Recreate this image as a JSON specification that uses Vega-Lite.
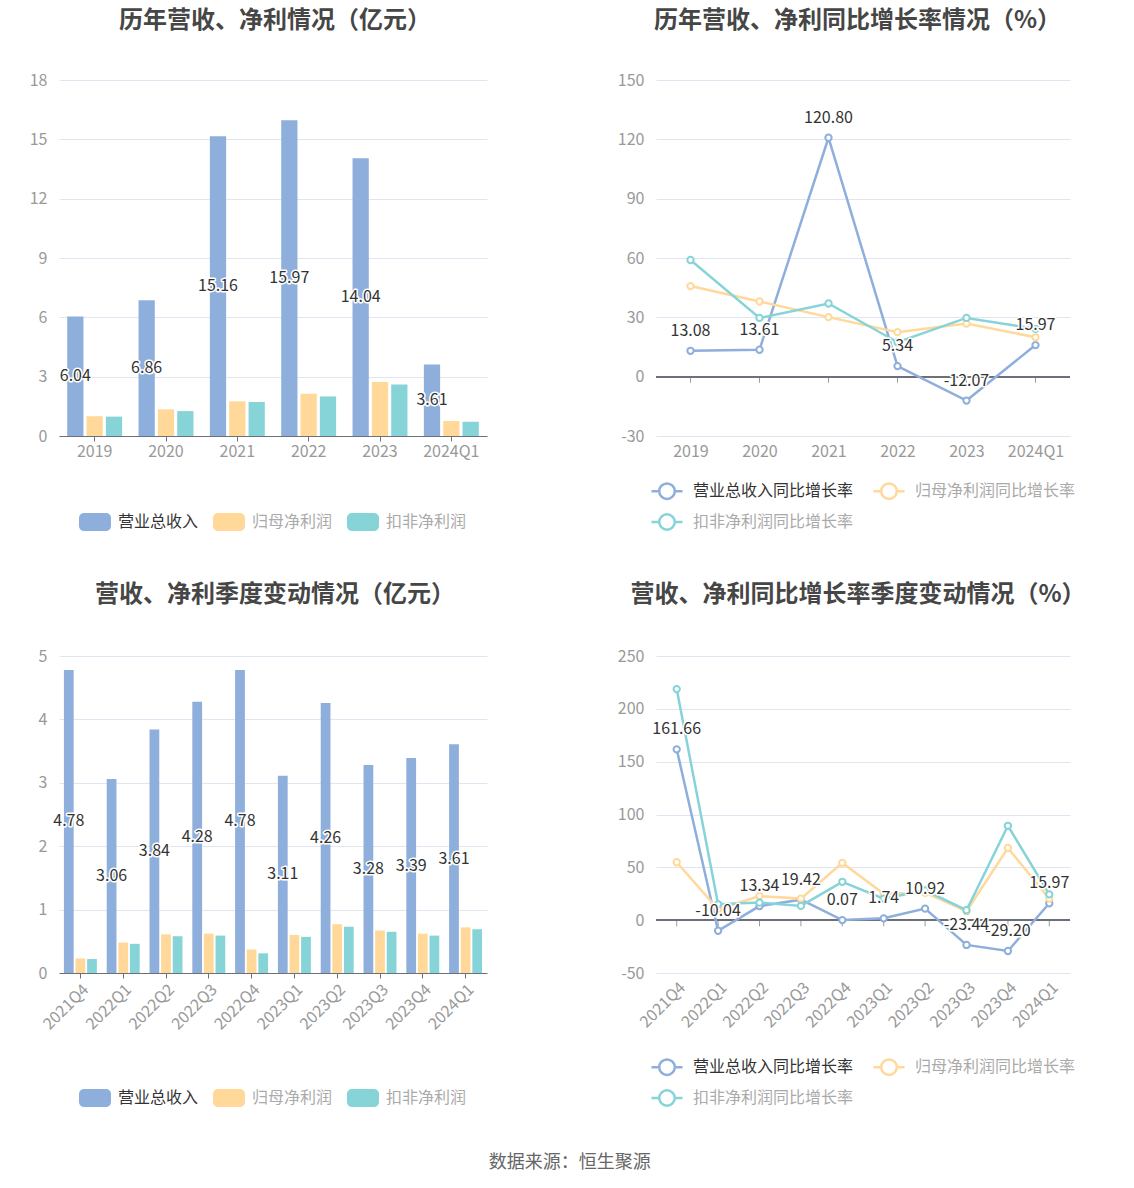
{
  "$schema": "https://vega.github.io/schema/vega-lite/v6.json",
  "background": "white",
  "padding": {"left": 0, "right": 0, "top": 9, "bottom": 0},
  "config": {
    "font": "Noto Sans CJK SC",
    "locale": {"number": {"decimal": ".", "thousands": ",", "grouping": [3], "currency": ["", ""], "minus": "-"}},
    "view": {"stroke": null},
    "title": {"fontSize": 24, "fontWeight": "bold", "color": "#464646", "offset": 39, "anchor": "middle"},
    "axis": {"labelFontSize": 16, "labelColor": "#999999", "title": null},
    "legend": {"orient": "bottom", "direction": "horizontal", "title": null, "labelFontSize": 16, "labelColor": "#aaaaaa", "labelLimit": 0, "columnPadding": 14, "rowPadding": 1, "layout": {"bottom": {"anchor": "middle"}}}
  },
  "title": {"text": "数据来源：恒生聚源", "orient": "bottom", "fontSize": 18, "fontWeight": "normal", "color": "#666666", "offset": 43, "dx": 27},
  "datasets": {
    "annual": [
      {"p": "2019", "s": "营业总收入", "v": 6.04}, {"p": "2019", "s": "归母净利润", "v": 1.0}, {"p": "2019", "s": "扣非净利润", "v": 0.98},
      {"p": "2020", "s": "营业总收入", "v": 6.86}, {"p": "2020", "s": "归母净利润", "v": 1.35}, {"p": "2020", "s": "扣非净利润", "v": 1.26},
      {"p": "2021", "s": "营业总收入", "v": 15.16}, {"p": "2021", "s": "归母净利润", "v": 1.75}, {"p": "2021", "s": "扣非净利润", "v": 1.72},
      {"p": "2022", "s": "营业总收入", "v": 15.97}, {"p": "2022", "s": "归母净利润", "v": 2.14}, {"p": "2022", "s": "扣非净利润", "v": 2.0},
      {"p": "2023", "s": "营业总收入", "v": 14.04}, {"p": "2023", "s": "归母净利润", "v": 2.73}, {"p": "2023", "s": "扣非净利润", "v": 2.6},
      {"p": "2024Q1", "s": "营业总收入", "v": 3.61}, {"p": "2024Q1", "s": "归母净利润", "v": 0.76}, {"p": "2024Q1", "s": "扣非净利润", "v": 0.72}
    ],
    "annualGrowth": [
      {"p": "2019", "s": "营业总收入同比增长率", "v": 13.08}, {"p": "2020", "s": "营业总收入同比增长率", "v": 13.61}, {"p": "2021", "s": "营业总收入同比增长率", "v": 120.8},
      {"p": "2022", "s": "营业总收入同比增长率", "v": 5.34}, {"p": "2023", "s": "营业总收入同比增长率", "v": -12.07}, {"p": "2024Q1", "s": "营业总收入同比增长率", "v": 15.97},
      {"p": "2019", "s": "归母净利润同比增长率", "v": 45.8}, {"p": "2020", "s": "归母净利润同比增长率", "v": 38.0}, {"p": "2021", "s": "归母净利润同比增长率", "v": 30.1},
      {"p": "2022", "s": "归母净利润同比增长率", "v": 22.5}, {"p": "2023", "s": "归母净利润同比增长率", "v": 26.9}, {"p": "2024Q1", "s": "归母净利润同比增长率", "v": 19.9},
      {"p": "2019", "s": "扣非净利润同比增长率", "v": 59.0}, {"p": "2020", "s": "扣非净利润同比增长率", "v": 29.7}, {"p": "2021", "s": "扣非净利润同比增长率", "v": 37.0},
      {"p": "2022", "s": "扣非净利润同比增长率", "v": 17.4}, {"p": "2023", "s": "扣非净利润同比增长率", "v": 29.7}, {"p": "2024Q1", "s": "扣非净利润同比增长率", "v": 24.2}
    ],
    "quarterly": [
      {"p": "2021Q4", "s": "营业总收入", "v": 4.78}, {"p": "2021Q4", "s": "归母净利润", "v": 0.23}, {"p": "2021Q4", "s": "扣非净利润", "v": 0.22},
      {"p": "2022Q1", "s": "营业总收入", "v": 3.06}, {"p": "2022Q1", "s": "归母净利润", "v": 0.48}, {"p": "2022Q1", "s": "扣非净利润", "v": 0.46},
      {"p": "2022Q2", "s": "营业总收入", "v": 3.84}, {"p": "2022Q2", "s": "归母净利润", "v": 0.61}, {"p": "2022Q2", "s": "扣非净利润", "v": 0.58},
      {"p": "2022Q3", "s": "营业总收入", "v": 4.28}, {"p": "2022Q3", "s": "归母净利润", "v": 0.62}, {"p": "2022Q3", "s": "扣非净利润", "v": 0.59},
      {"p": "2022Q4", "s": "营业总收入", "v": 4.78}, {"p": "2022Q4", "s": "归母净利润", "v": 0.37}, {"p": "2022Q4", "s": "扣非净利润", "v": 0.31},
      {"p": "2023Q1", "s": "营业总收入", "v": 3.11}, {"p": "2023Q1", "s": "归母净利润", "v": 0.6}, {"p": "2023Q1", "s": "扣非净利润", "v": 0.57},
      {"p": "2023Q2", "s": "营业总收入", "v": 4.26}, {"p": "2023Q2", "s": "归母净利润", "v": 0.77}, {"p": "2023Q2", "s": "扣非净利润", "v": 0.73},
      {"p": "2023Q3", "s": "营业总收入", "v": 3.28}, {"p": "2023Q3", "s": "归母净利润", "v": 0.67}, {"p": "2023Q3", "s": "扣非净利润", "v": 0.65},
      {"p": "2023Q4", "s": "营业总收入", "v": 3.39}, {"p": "2023Q4", "s": "归母净利润", "v": 0.62}, {"p": "2023Q4", "s": "扣非净利润", "v": 0.59},
      {"p": "2024Q1", "s": "营业总收入", "v": 3.61}, {"p": "2024Q1", "s": "归母净利润", "v": 0.72}, {"p": "2024Q1", "s": "扣非净利润", "v": 0.69}
    ],
    "quarterlyGrowth": [
      {"p": "2021Q4", "s": "营业总收入同比增长率", "v": 161.66}, {"p": "2022Q1", "s": "营业总收入同比增长率", "v": -10.04}, {"p": "2022Q2", "s": "营业总收入同比增长率", "v": 13.34},
      {"p": "2022Q3", "s": "营业总收入同比增长率", "v": 19.42}, {"p": "2022Q4", "s": "营业总收入同比增长率", "v": 0.07}, {"p": "2023Q1", "s": "营业总收入同比增长率", "v": 1.74},
      {"p": "2023Q2", "s": "营业总收入同比增长率", "v": 10.92}, {"p": "2023Q3", "s": "营业总收入同比增长率", "v": -23.44}, {"p": "2023Q4", "s": "营业总收入同比增长率", "v": -29.2},
      {"p": "2024Q1", "s": "营业总收入同比增长率", "v": 15.97},
      {"p": "2021Q4", "s": "归母净利润同比增长率", "v": 54.8}, {"p": "2022Q1", "s": "归母净利润同比增长率", "v": 10.3}, {"p": "2022Q2", "s": "归母净利润同比增长率", "v": 22.9},
      {"p": "2022Q3", "s": "归母净利润同比增长率", "v": 20.4}, {"p": "2022Q4", "s": "归母净利润同比增长率", "v": 54.2}, {"p": "2023Q1", "s": "归母净利润同比增长率", "v": 25.0},
      {"p": "2023Q2", "s": "归母净利润同比增长率", "v": 26.0}, {"p": "2023Q3", "s": "归母净利润同比增长率", "v": 8.5}, {"p": "2023Q4", "s": "归母净利润同比增长率", "v": 68.3},
      {"p": "2024Q1", "s": "归母净利润同比增长率", "v": 20.4},
      {"p": "2021Q4", "s": "扣非净利润同比增长率", "v": 218.7}, {"p": "2022Q1", "s": "扣非净利润同比增长率", "v": 15.0}, {"p": "2022Q2", "s": "扣非净利润同比增长率", "v": 16.6},
      {"p": "2022Q3", "s": "扣非净利润同比增长率", "v": 13.5}, {"p": "2022Q4", "s": "扣非净利润同比增长率", "v": 36.3}, {"p": "2023Q1", "s": "扣非净利润同比增长率", "v": 20.4},
      {"p": "2023Q2", "s": "扣非净利润同比增长率", "v": 28.2}, {"p": "2023Q3", "s": "扣非净利润同比增长率", "v": 9.4}, {"p": "2023Q4", "s": "扣非净利润同比增长率", "v": 89.3},
      {"p": "2024Q1", "s": "扣非净利润同比增长率", "v": 24.4}
    ]
  },
  "resolve": {"scale": {"color": "independent", "stroke": "independent"}, "legend": {"color": "independent"}},
  "columns": 1,
  "align": "none",
  "spacing": 48,
  "concat": [
    {
      "spacing": 109,
      "resolve": {"scale": {"x": "independent", "y": "independent", "color": "independent", "stroke": "independent", "xOffset": "independent"}, "legend": {"color": "independent"}, "axis": {"x": "independent", "y": "independent"}},
      "hconcat": [
        {
          "width": 428, "height": 356,
          "title": {"text": "历年营收、净利情况（亿元）", "dx": 2},
          "data": {"name": "annual"},
          "encoding": {
            "x": {"field": "p", "type": "nominal", "sort": null, "scale": {"paddingInner": 0.23, "paddingOuter": 0.115},
              "axis": {"labelAngle": 0, "domainColor": "#6E7079", "tickColor": "#6E7079", "tickSize": 5, "labelPadding": 2}},
            "xOffset": {"field": "s", "type": "nominal", "scale": {"domain": ["营业总收入", "归母净利润", "扣非净利润"], "paddingInner": 0.16, "paddingOuter": 0}}
          },
          "resolve": {"scale": {"y": "independent"}},
          "layer": [
            {
              "mark": {"type": "bar"},
              "encoding": {
                "y": {"field": "v", "type": "quantitative", "scale": {"domain": [0, 18]},
                  "axis": {"values": [0, 3, 6, 9, 12, 15, 18], "domain": false, "ticks": false, "gridColor": "#E0E6F1", "labelPadding": 12, "minExtent": 59, "maxExtent": 59}},
                "color": {"field": "s", "type": "nominal", "scale": {"domain": ["营业总收入", "归母净利润", "扣非净利润"], "range": ["#8eaedb", "#ffd89a", "#86d4d8"]},
                  "legend": {"offset": 47, "symbolType": "M-0.6875,-0.5625 H0.6875 A0.3125,0.3125 0 0 1 1,-0.25 V0.25 A0.3125,0.3125 0 0 1 0.6875,0.5625 H-0.6875 A0.3125,0.3125 0 0 1 -1,0.25 V-0.25 A0.3125,0.3125 0 0 1 -0.6875,-0.5625 Z", "symbolSize": 1024, "symbolStrokeWidth": 0, "labelOffset": 7,
                    "encode": {"symbols": {"update": {"fill": {"signal": "datum.value === '营业总收入' ? '#8eaedb' : datum.value === '归母净利润' ? '#ffebcd' : '#c3eaec'"}, "opacity": {"value": 1}}},
                      "labels": {"update": {"fill": {"signal": "datum.value === '营业总收入' ? '#333333' : '#aaaaaa'"}}}}}}
              }
            },
            {
              "transform": [{"filter": "datum.s === '营业总收入'"}],
              "encoding": {"y": {"field": "v", "type": "quantitative", "scale": {"domain": [0, 36]}, "axis": null}, "text": {"field": "v", "format": ".2f"}},
              "layer": [
                {"mark": {"type": "text", "fontSize": 16, "fill": "white", "stroke": "white", "strokeWidth": 3, "strokeJoin": "round", "baseline": "middle"}},
                {"mark": {"type": "text", "fontSize": 16, "fill": "#333333", "baseline": "middle"}}
              ]
            }
          ]
        },
        {
          "width": 414, "height": 356,
          "title": {"text": "历年营收、净利同比增长率情况（%）", "dx": -5.5},
          "data": {"name": "annualGrowth"},
          "encoding": {
            "x": {"field": "p", "type": "nominal", "sort": null, "scale": {"type": "point", "padding": 0.5},
              "axis": {"labelAngle": 0, "domain": false, "ticks": false, "labelPadding": 7}},
            "y": {"field": "v", "type": "quantitative", "scale": {"domain": [-30, 150]},
              "axis": {"values": [-30, 0, 30, 60, 90, 120, 150], "domain": false, "ticks": false, "gridColor": "#E0E6F1", "labelPadding": 12, "minExtent": 60, "maxExtent": 60}}
          },
          "layer": [
            {"mark": {"type": "rule", "color": "#6E7079", "strokeWidth": 1}, "encoding": {"y": {"datum": 0}, "x": null}},
            {"transform": [{"filter": "datum.s === '营业总收入同比增长率'"}], "mark": {"type": "tick", "orient": "vertical", "size": 6, "thickness": 1, "yOffset": 3, "color": "#6E7079"}, "encoding": {"y": {"datum": 0}}},
            {
              "mark": {"type": "line", "strokeWidth": 2.5},
              "encoding": {
                "color": {"field": "s", "type": "nominal", "sort": null, "scale": {"domain": ["营业总收入同比增长率", "归母净利润同比增长率", "扣非净利润同比增长率"], "range": ["#8eaedb", "#ffd89a", "#86d4d8"]},
                  "legend": {"offset": 15, "columns": 2, "symbolType": "M-1,0 H-0.5 M0.5,0 H1 M0.5,0 A0.5,0.5 0 1 1 -0.5,0 A0.5,0.5 0 1 1 0.5,0", "symbolSize": 961, "symbolStrokeWidth": 2.5, "labelOffset": 9,
                    "encode": {"symbols": {"update": {"stroke": {"signal": "datum.value === '营业总收入同比增长率' ? '#8eaedb' : datum.value === '归母净利润同比增长率' ? '#ffe3b8' : '#bde8ea'"}, "fill": {"value": "white"}, "opacity": {"value": 1}}},
                      "labels": {"update": {"fill": {"signal": "datum.value === '营业总收入同比增长率' ? '#333333' : '#aaaaaa'"}}}}}}
              }
            },
            {
              "mark": {"type": "point", "filled": true, "fill": "white", "size": 40, "strokeWidth": 2, "opacity": 1},
              "encoding": {"stroke": {"field": "s", "type": "nominal", "scale": {"domain": ["营业总收入同比增长率", "归母净利润同比增长率", "扣非净利润同比增长率"], "range": ["#8eaedb", "#ffd89a", "#86d4d8"]}, "legend": null}}
            },
            {
              "transform": [{"filter": "datum.s === '营业总收入同比增长率'"}],
              "encoding": {"text": {"field": "v", "format": ".2f"}},
              "layer": [
                {"mark": {"type": "text", "fontSize": 16, "fill": "white", "stroke": "white", "strokeWidth": 3, "strokeJoin": "round", "baseline": "middle", "dy": -20}},
                {"mark": {"type": "text", "fontSize": 16, "fill": "#333333", "baseline": "middle", "dy": -20}}
              ]
            }
          ]
        }
      ]
    },
    {
      "spacing": 109,
      "resolve": {"scale": {"x": "independent", "y": "independent", "color": "independent", "stroke": "independent", "xOffset": "independent"}, "legend": {"color": "independent"}, "axis": {"x": "independent", "y": "independent"}},
      "hconcat": [
        {
          "width": 428, "height": 317,
          "title": {"text": "营收、净利季度变动情况（亿元）", "dx": 2, "offset": 41},
          "data": {"name": "quarterly"},
          "encoding": {
            "x": {"field": "p", "type": "nominal", "sort": null, "scale": {"paddingInner": 0.23, "paddingOuter": 0.115},
              "axis": {"labelAngle": -45, "domainColor": "#6E7079", "tickColor": "#6E7079", "tickSize": 5, "labelPadding": 3}},
            "xOffset": {"field": "s", "type": "nominal", "scale": {"domain": ["营业总收入", "归母净利润", "扣非净利润"], "paddingInner": 0.16, "paddingOuter": 0}}
          },
          "resolve": {"scale": {"y": "independent"}},
          "layer": [
            {
              "mark": {"type": "bar"},
              "encoding": {
                "y": {"field": "v", "type": "quantitative", "scale": {"domain": [0, 5]},
                  "axis": {"values": [0, 1, 2, 3, 4, 5], "domain": false, "ticks": false, "gridColor": "#E0E6F1", "labelPadding": 12, "minExtent": 59, "maxExtent": 59}},
                "color": {"field": "s", "type": "nominal", "scale": {"domain": ["营业总收入", "归母净利润", "扣非净利润"], "range": ["#8eaedb", "#ffd89a", "#86d4d8"]},
                  "legend": {"offset": 49, "symbolType": "M-0.6875,-0.5625 H0.6875 A0.3125,0.3125 0 0 1 1,-0.25 V0.25 A0.3125,0.3125 0 0 1 0.6875,0.5625 H-0.6875 A0.3125,0.3125 0 0 1 -1,0.25 V-0.25 A0.3125,0.3125 0 0 1 -0.6875,-0.5625 Z", "symbolSize": 1024, "symbolStrokeWidth": 0, "labelOffset": 7,
                    "encode": {"symbols": {"update": {"fill": {"signal": "datum.value === '营业总收入' ? '#8eaedb' : datum.value === '归母净利润' ? '#ffebcd' : '#c3eaec'"}, "opacity": {"value": 1}}},
                      "labels": {"update": {"fill": {"signal": "datum.value === '营业总收入' ? '#333333' : '#aaaaaa'"}}}}}}
              }
            },
            {
              "transform": [{"filter": "datum.s === '营业总收入'"}],
              "encoding": {"y": {"field": "v", "type": "quantitative", "scale": {"domain": [0, 10]}, "axis": null}, "text": {"field": "v", "format": ".2f"}},
              "layer": [
                {"mark": {"type": "text", "fontSize": 16, "fill": "white", "stroke": "white", "strokeWidth": 3, "strokeJoin": "round", "baseline": "middle"}},
                {"mark": {"type": "text", "fontSize": 16, "fill": "#333333", "baseline": "middle"}}
              ]
            }
          ]
        },
        {
          "width": 414, "height": 317,
          "title": {"text": "营收、净利同比增长率季度变动情况（%）", "dx": -5, "offset": 41},
          "data": {"name": "quarterlyGrowth"},
          "encoding": {
            "x": {"field": "p", "type": "nominal", "sort": null, "scale": {"type": "point", "padding": 0.5},
              "axis": {"labelAngle": -45, "domain": false, "ticks": false, "labelPadding": 6}},
            "y": {"field": "v", "type": "quantitative", "scale": {"domain": [-50, 250]},
              "axis": {"values": [-50, 0, 50, 100, 150, 200, 250], "domain": false, "ticks": false, "gridColor": "#E0E6F1", "labelPadding": 12, "minExtent": 60, "maxExtent": 60}}
          },
          "layer": [
            {"mark": {"type": "rule", "color": "#6E7079", "strokeWidth": 1}, "encoding": {"y": {"datum": 0}, "x": null}},
            {"transform": [{"filter": "datum.s === '营业总收入同比增长率'"}], "mark": {"type": "tick", "orient": "vertical", "size": 6, "thickness": 1, "yOffset": 3, "color": "#6E7079"}, "encoding": {"y": {"datum": 0}}},
            {
              "mark": {"type": "line", "strokeWidth": 2.5},
              "encoding": {
                "color": {"field": "s", "type": "nominal", "sort": null, "scale": {"domain": ["营业总收入同比增长率", "归母净利润同比增长率", "扣非净利润同比增长率"], "range": ["#8eaedb", "#ffd89a", "#86d4d8"]},
                  "legend": {"offset": 19, "columns": 2, "symbolType": "M-1,0 H-0.5 M0.5,0 H1 M0.5,0 A0.5,0.5 0 1 1 -0.5,0 A0.5,0.5 0 1 1 0.5,0", "symbolSize": 961, "symbolStrokeWidth": 2.5, "labelOffset": 9,
                    "encode": {"symbols": {"update": {"stroke": {"signal": "datum.value === '营业总收入同比增长率' ? '#8eaedb' : datum.value === '归母净利润同比增长率' ? '#ffe3b8' : '#bde8ea'"}, "fill": {"value": "white"}, "opacity": {"value": 1}}},
                      "labels": {"update": {"fill": {"signal": "datum.value === '营业总收入同比增长率' ? '#333333' : '#aaaaaa'"}}}}}}
              }
            },
            {
              "mark": {"type": "point", "filled": true, "fill": "white", "size": 40, "strokeWidth": 2, "opacity": 1},
              "encoding": {"stroke": {"field": "s", "type": "nominal", "scale": {"domain": ["营业总收入同比增长率", "归母净利润同比增长率", "扣非净利润同比增长率"], "range": ["#8eaedb", "#ffd89a", "#86d4d8"]}, "legend": null}}
            },
            {
              "transform": [{"filter": "datum.s === '营业总收入同比增长率'"}],
              "encoding": {"text": {"field": "v", "format": ".2f"}},
              "layer": [
                {"mark": {"type": "text", "fontSize": 16, "fill": "white", "stroke": "white", "strokeWidth": 3, "strokeJoin": "round", "baseline": "middle", "dy": -20}},
                {"mark": {"type": "text", "fontSize": 16, "fill": "#333333", "baseline": "middle", "dy": -20}}
              ]
            }
          ]
        }
      ]
    }
  ]
}
